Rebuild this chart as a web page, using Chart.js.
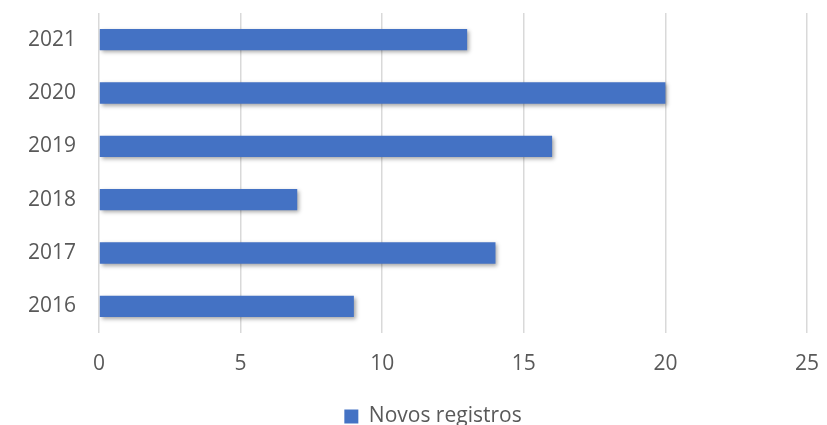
<!DOCTYPE html>
<html>
<head>
<meta charset="utf-8">
<script src="https://cdn.jsdelivr.net/npm/chart.js@4/dist/chart.umd.min.js"></script>
<style>
  html, body { margin: 0; padding: 0; background: #fff; }
  #wrap { width: 827px; height: 425px; }
</style>
</head>
<body>
<div id="wrap"><canvas id="chart" width="827" height="425"></canvas></div>
<script>
const years = ['2021', '2020', '2019', '2018', '2017', '2016'];
const novosRegistros = [13, 20, 16, 7, 14, 9];
const xMin = 0;
const xMax = 25;
const xStep = 5;

const textColor = '#595959';
const barColor = '#4472C4';
const gridColor = '#D9D9D9';
const fontFamily = '"Open Sans", "Liberation Sans", sans-serif';

// soft drop shadow under the bars, like the office chart
const barShadow = {
    id: 'barShadow',
    beforeDatasetsDraw(chart) {
        const ctx = chart.ctx;
        ctx.save();
        ctx.shadowColor = 'rgba(0, 0, 0, 0.35)';
        ctx.shadowBlur = 4;
        ctx.shadowOffsetX = 2;
        ctx.shadowOffsetY = 2;
    },
    afterDatasetsDraw(chart) {
        chart.ctx.restore();
    }
};

// the legend sits a bit right of the canvas centre in the original
const legendShift = {
    id: 'legendShift',
    afterLayout(chart) {
        if (chart.legend) chart.legend.left += 59;
    }
};

const ctx = document.getElementById('chart').getContext('2d');
new Chart(ctx, {
    type: 'bar',
    data: {
        labels: years,
        datasets: [{
            label: 'Novos registros',
            data: novosRegistros,
            backgroundColor: barColor,
            barPercentage: 0.4,
            categoryPercentage: 1.0
        }]
    },
    options: {
        indexAxis: 'y',
        responsive: false,
        animation: false,
        layout: { padding: { top: 13, right: 20, bottom: -12, left: 0 } },
        scales: {
            x: {
                min: xMin,
                max: xMax,
                ticks: {
                    stepSize: xStep,
                    padding: 18,
                    color: textColor,
                    font: { family: fontFamily, size: 21 }
                },
                grid: { color: gridColor, lineWidth: 1.5, drawTicks: false },
                border: { display: false },
                afterFit(scale) {
                    scale.height = 65;
                    scale.paddingLeft = 0;
                    scale.paddingRight = 0;
                }
            },
            y: {
                ticks: {
                    padding: 23,
                    color: textColor,
                    font: { family: fontFamily, size: 21 }
                },
                grid: { display: false, drawTicks: false },
                border: { display: false },
                afterFit(scale) {
                    scale.width = 99;
                    scale.paddingTop = 0;
                    scale.paddingBottom = 0;
                }
            }
        },
        plugins: {
            legend: {
                position: 'bottom',
                labels: {
                    color: textColor,
                    boxWidth: 14,
                    boxHeight: 14,
                    padding: 8,
                    font: { family: fontFamily, size: 21 }
                }
            },
            tooltip: { enabled: false }
        }
    },
    plugins: [barShadow, legendShift]
});
</script>
</body>
</html>
